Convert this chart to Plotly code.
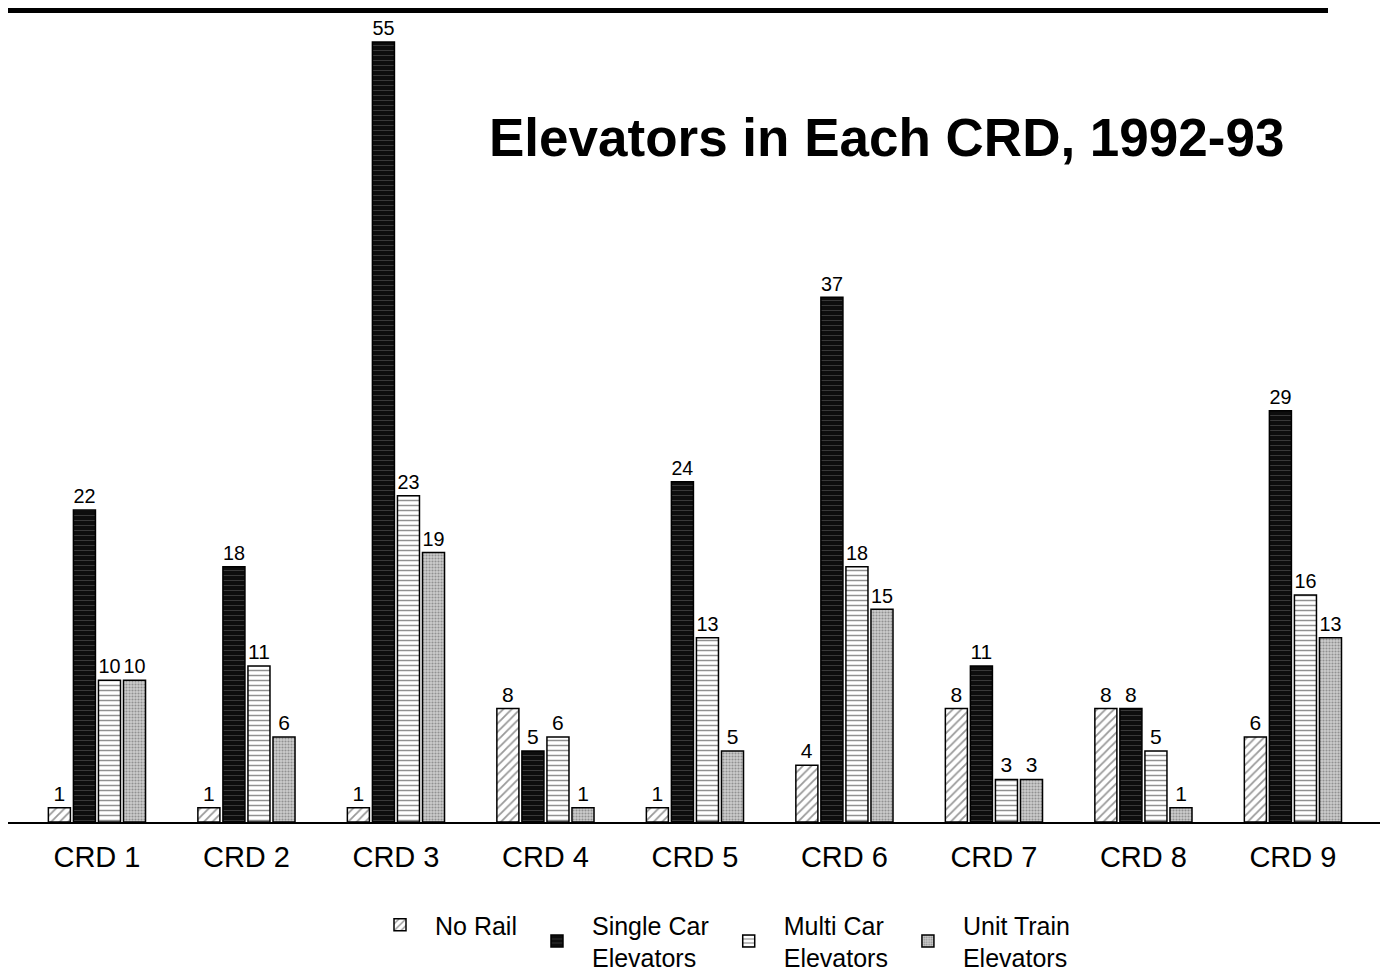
import plotly.graph_objects as go

categories = ["CRD 1", "CRD 2", "CRD 3", "CRD 4", "CRD 5", "CRD 6", "CRD 7", "CRD 8", "CRD 9"]
no_rail = [1, 1, 1, 8, 1, 4, 8, 8, 6]
single_car = [22, 18, 55, 5, 24, 37, 11, 8, 29]
multi_car = [10, 11, 23, 6, 13, 18, 3, 5, 16]
unit_train = [10, 6, 19, 1, 5, 15, 3, 1, 13]

series_names = ["No Rail", "Single Car<br>Elevators", "Multi Car<br>Elevators", "Unit Train<br>Elevators"]
series_values = [no_rail, single_car, multi_car, unit_train]
styles = [
    dict(color="white", pattern=dict(shape="/", fgcolor="#333333", bgcolor="white", size=6, solidity=0.3)),
    dict(color="#111111", pattern=dict(shape="-", fgcolor="#bbbbbb", bgcolor="#0d0d0d", size=5, solidity=0.1)),
    dict(color="white", pattern=dict(shape="-", fgcolor="#222222", bgcolor="white", size=5, solidity=0.3)),
    dict(color="#aaaaaa", pattern=dict(shape=".", fgcolor="#555555", bgcolor="#cccccc", size=3, solidity=0.4)),
]

FONT = "Arial, Liberation Sans, sans-serif"

fig = go.Figure()
for name, vals, st in zip(series_names, series_values, styles):
    fig.add_trace(go.Bar(
        x=categories, y=vals, name=name,
        text=[str(v) for v in vals], textposition="outside",
        textfont=dict(family=FONT, size=21, color="black"),
        cliponaxis=False,
        marker=dict(color=st["color"], pattern=st["pattern"],
                    line=dict(color="black", width=1.5)),
    ))

fig.update_layout(
    width=1380, height=972,
    margin=dict(l=0, r=0, t=0, b=158, autoexpand=False),
    paper_bgcolor="white", plot_bgcolor="white",
    barmode="group", bargap=0.33, bargroupgap=0.12,
    font=dict(family=FONT, color="black"),
    showlegend=True,
    legend=dict(orientation="h", xref="container", yref="container",
                x=(720 - 8) / 1380, xanchor="center", y=0.0, yanchor="bottom",
                font=dict(family=FONT, size=25), itemwidth=60,
                tracegroupgap=10, valign="middle"),
    xaxis=dict(range=[-0.595, 8.636], showline=True, linecolor="black", linewidth=2,
               ticks="", tickfont=dict(family=FONT, size=29), showgrid=False,
               zeroline=False, ticklabelstandoff=8),
    yaxis=dict(range=[0, 57.4], visible=False, showgrid=False, zeroline=False),
    annotations=[dict(text="<b>Elevators in Each CRD, 1992-93</b>", xref="paper", yref="paper",
                      x=878 / 1380, y=1 - 129 / 814, xanchor="center", yanchor="middle",
                      showarrow=False, font=dict(family=FONT, size=53, color="black"))],
    shapes=[dict(type="rect", xref="paper", yref="paper", x0=0, x1=1320 / 1380,
                 y0=1 - 5 / 814, y1=1.0, fillcolor="black", line=dict(width=0))],
)

fig.write_html("out.html")
